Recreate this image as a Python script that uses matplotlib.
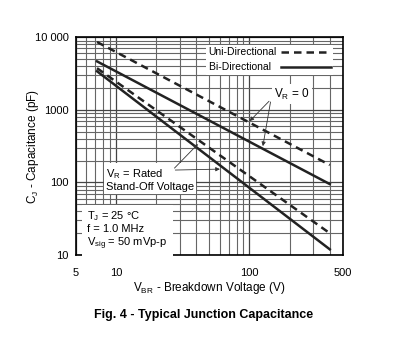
import numpy as np
import matplotlib.pyplot as plt
from matplotlib.ticker import LogLocator, FixedLocator, FixedFormatter, NullFormatter

plt.rcParams["font.family"] = ["Liberation Sans", "DejaVu Sans"]
plt.rcParams["mathtext.fontset"] = "custom"
plt.rcParams["mathtext.rm"] = "Liberation Sans"
plt.rcParams["mathtext.it"] = "Liberation Sans"

# breakdown voltage endpoints (V) and capacitance (pF)
vbr = [7.2, 400]
uni_vr0 = [8600, 174]
bi_vr0 = [4650, 95]
uni_rated = [3750, 20]
bi_rated = [3400, 12]

xticks = [5, 10, 100, 500]
xticklabels = ["5", "10", "100", "500"]
yticks = [10, 100, 1000, 10000]
yticklabels = ["10", "100", "1000", "10 000"]

fig = plt.figure(figsize=(4.08, 3.48), dpi=100)
ax = fig.add_axes([0.186, 0.267, 0.654, 0.626])
ax.set_xscale("log")
ax.set_yscale("log")
ax.set_xlim(5, 500)
ax.set_ylim(10, 10000)

ax.xaxis.set_major_locator(FixedLocator(xticks))
ax.xaxis.set_major_formatter(FixedFormatter(xticklabels))
ax.xaxis.set_minor_locator(LogLocator(base=10, subs=np.arange(2, 10)))
ax.xaxis.set_minor_formatter(NullFormatter())
ax.yaxis.set_major_locator(FixedLocator(yticks))
ax.yaxis.set_major_formatter(FixedFormatter(yticklabels))
ax.yaxis.set_minor_locator(LogLocator(base=10, subs=np.arange(2, 10)))
ax.yaxis.set_minor_formatter(NullFormatter())

ax.grid(True, which="major", color="#444444", lw=0.9)
ax.grid(True, which="minor", color="#666666", lw=0.8)
ax.tick_params(which="both", direction="in", top=True, right=True,
               labelsize=8, length=0, pad=5)
ax.tick_params(axis="x", pad=9)
for s in ax.spines.values():
    s.set_linewidth(1.2)

ax.plot(vbr, uni_vr0, color="#222222", lw=1.8, ls=(0, (3, 2)), label="Uni-Directional")
# trailing spaces keep the two legend labels left-aligned
ax.plot(vbr, bi_vr0, color="#222222", lw=1.8, label="Bi-Directional  ")
ax.plot(vbr, uni_rated, color="#222222", lw=1.8, ls=(0, (3, 2)))
ax.plot(vbr, bi_rated, color="#222222", lw=1.8)

leg = ax.legend(loc="upper right", markerfirst=False, fontsize=7.5, frameon=True,
                fancybox=False, edgecolor="none", framealpha=1,
                handlelength=4.8, handletextpad=0.4, borderpad=0.25,
                labelspacing=0.45, bbox_to_anchor=(0.965, 0.965), borderaxespad=0)

arrow = dict(arrowstyle="-|>", color="#333333", lw=0.6, mutation_scale=6)
txt_bbox = dict(facecolor="white", edgecolor="none", pad=1.5)

ax.text(153, 1650, "V$_\\mathregular{R}$ = 0", fontsize=8.5, ha="left", va="center",
        bbox=txt_bbox)
ax.annotate("", xy=(97, 656), xytext=(145, 1400), arrowprops=arrow)
ax.annotate("", xy=(125, 290), xytext=(145, 1400), arrowprops=arrow)

ax.text(8.4, 110, "V$_\\mathregular{R}$ = Rated\nStand-Off Voltage", fontsize=8,
        ha="left", va="center", linespacing=1.15, bbox=txt_bbox)
ax.annotate("", xy=(42.5, 360), xytext=(26.5, 148), arrowprops=arrow)
ax.annotate("", xy=(63, 153), xytext=(26.5, 148), arrowprops=arrow)

ax.text(6.1, 22, "T$_\\mathregular{J}$ = 25 °C\nf = 1.0 MHz\nV$_\\mathregular{sig}$ = 50 mVp-p",
        fontsize=8, ha="left", va="center", linespacing=1.15,
        bbox=dict(facecolor="white", edgecolor="none", pad=4))

ax.set_xlabel("V$_\\mathregular{BR}$ - Breakdown Voltage (V)", fontsize=8.5, labelpad=2)
ax.set_ylabel("C$_\\mathregular{J}$ - Capacitance (pF)", fontsize=8.5, labelpad=-4)

fig.text(0.5, 0.095, "Fig. 4 - Typical Junction Capacitance", fontsize=9,
         fontweight="bold", ha="center", va="center")

fig.savefig("out.png", dpi=100, facecolor="white")
